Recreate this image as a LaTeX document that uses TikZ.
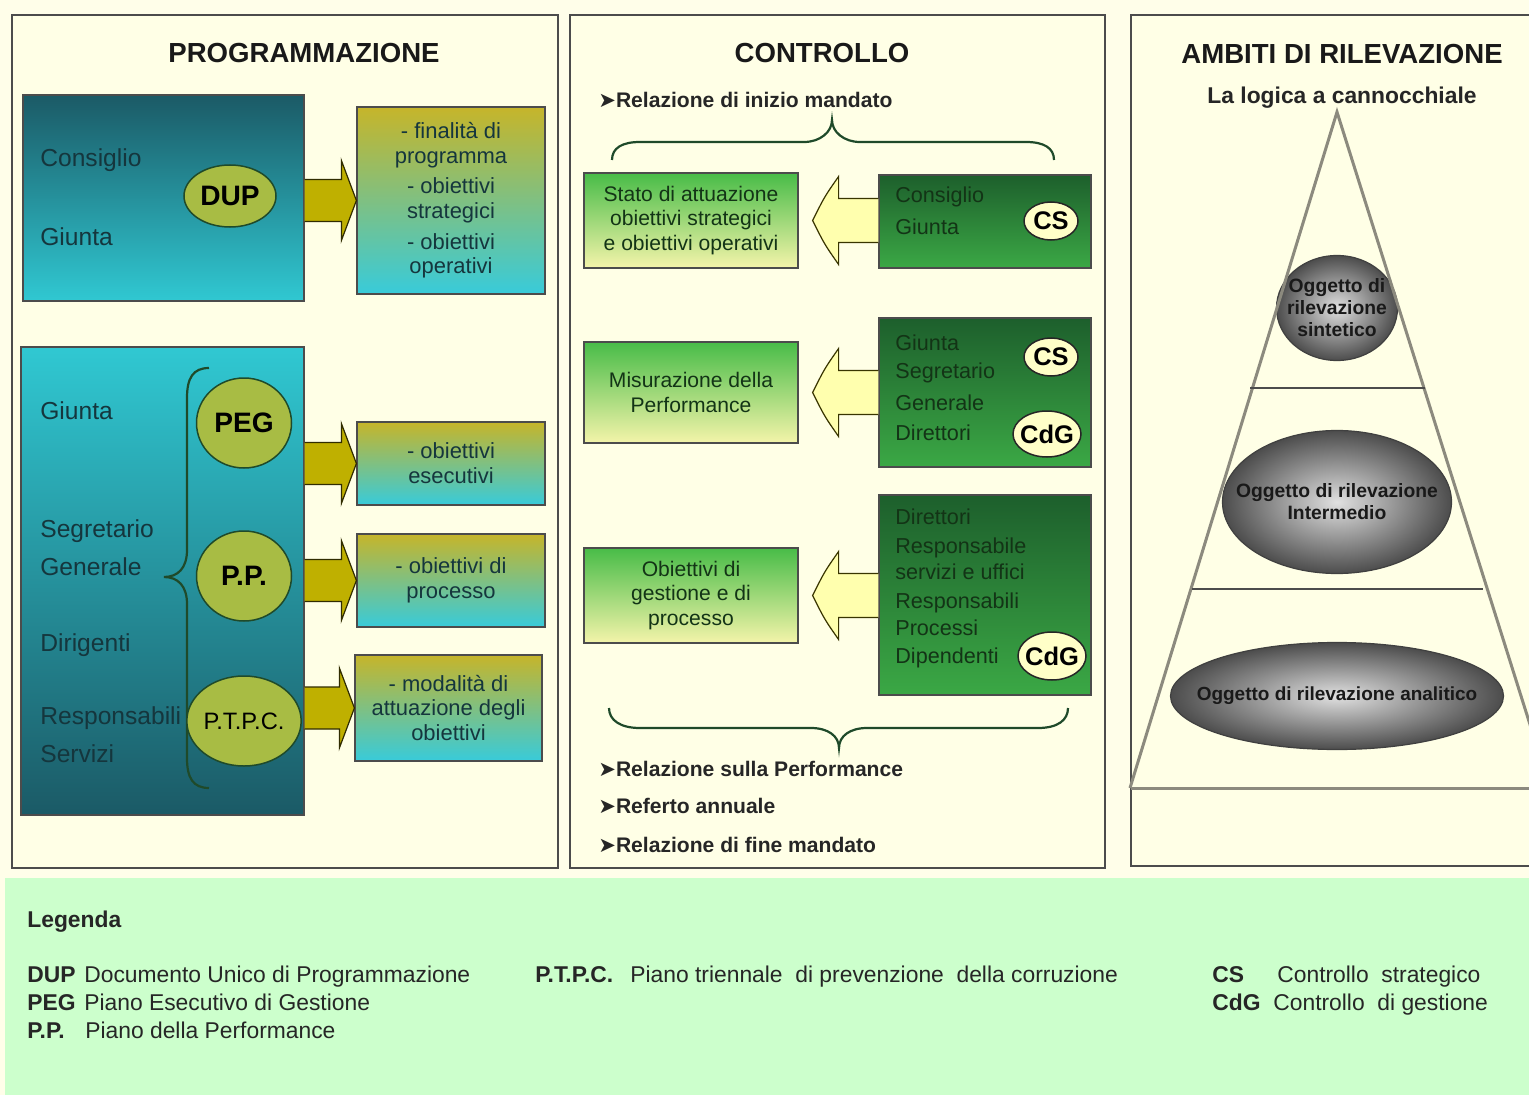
\documentclass[tikz,border=0pt]{standalone}
\usepackage{fontspec}
\setmainfont{Liberation Sans}
\newfontfamily\symfont{DejaVu Sans}
\usetikzlibrary{shapes.geometric,calc}

\newlength\px
\setlength\px{0.02cm}

\definecolor{bgcream}{HTML}{FFFEE9}
\definecolor{panelfill}{HTML}{FFFFE6}
\definecolor{legendgreen}{HTML}{CCFFCC}
\definecolor{tealdark}{HTML}{1B5A66}
\definecolor{tealbright}{HTML}{30C8D2}
\definecolor{olivetop}{HTML}{C6B52A}
\definecolor{cyanbox}{HTML}{38CBDA}
\definecolor{olivearrow}{HTML}{BFB000}
\definecolor{circlefill}{HTML}{A8BC44}
\definecolor{greentop}{HTML}{48BC48}
\definecolor{paleyellow}{HTML}{F4F4AA}
\definecolor{forestdark}{HTML}{1D5F2C}
\definecolor{forestmid}{HTML}{3BA845}
\definecolor{lightarrow}{HTML}{FFFFAE}
\definecolor{ovalcream}{HTML}{FFFFC8}
\definecolor{bracegreen}{HTML}{1F4A2A}
\definecolor{inkteal}{HTML}{15363D}
\definecolor{inkgreen}{HTML}{133416}
\definecolor{conegray}{HTML}{8C8A7E}

\newcommand{\reportmark}{{\symfont\fontsize{12}{14}\selectfont ➤}}

\tikzset{
  panel/.style={draw=black!70, fill=panelfill, line width=1.6\px},
  heading/.style={font=\fontsize{15.7}{18}\selectfont\bfseries, text=black!90},
  tealdown/.style={draw=black!70, line width=1.2\px, top color=tealdark, bottom color=tealbright},
  tealup/.style={draw=black!70, line width=1.2\px, top color=tealbright, bottom color=tealdark},
  goalbox/.style={draw=black!70, line width=1.2\px, top color=olivetop, bottom color=cyanbox,
    align=center, font=\fontsize{12.5}{14.2}\selectfont, text=inkteal},
  roletext/.style={anchor=west, inner sep=0pt, font=\fontsize{14}{16}\selectfont, text=inkteal},
  plan/.style={ellipse, draw=bracegreen, line width=1.5\px, fill=circlefill, inner sep=0pt,
    font=\fontsize{16}{18}\selectfont\bfseries, text=black},
  olivearr/.style={draw=black!75!olivearrow, line width=1.2\px, fill=olivearrow},
  resultbox/.style={draw=black!70, line width=1.2\px, top color=greentop, bottom color=paleyellow,
    align=center, font=\fontsize{12}{14.2}\selectfont, text=inkgreen},
  actorbox/.style={draw=black!70, line width=1.2\px, top color=forestdark, bottom color=forestmid},
  actortext/.style={anchor=west, inner sep=0pt, font=\fontsize{12.3}{14}\selectfont, text=inkgreen},
  ctrl/.style={ellipse, draw=black!85, line width=1.5\px, fill=ovalcream, inner sep=0pt},
  ctrltext/.style={inner sep=0pt, font=\fontsize{14.5}{16}\selectfont\bfseries, text=black},
  lightarr/.style={draw=black!70!olivearrow, line width=1.2\px, fill=lightarrow},
  report/.style={anchor=west, inner sep=0pt, font=\fontsize{12}{14}\selectfont\bfseries, text=black!85},
  bracepath/.style={draw=bracegreen, line width=2.2\px},
  ball/.style={ellipse, draw=black!75, line width=1.2\px, inner color=black!12, outer color=black!70,
    inner sep=0pt},
  balltext/.style={align=center, inner sep=0pt, font=\fontsize{11}{12.5}\selectfont\bfseries, text=black!90},
  cone/.style={draw=conegray, line width=3\px},
  legendtext/.style={anchor=base west, inner sep=0pt, font=\fontsize{13}{15}\selectfont, text=black!85},
  legendkey/.style={legendtext, font=\fontsize{13}{15}\selectfont\bfseries}
}

% right-pointing olive arrow from box #1 to box #2
\newcommand{\blockright}[2]{%
  \draw[olivearr] ($(#1.east |- #2.west)+(0,-21)$) -- ($(#2.west)+(-15,-21)$)
    -- ($(#2.west)+(-15,-40)$) -- (#2.west) -- ($(#2.west)+(-15,40)$)
    -- ($(#2.west)+(-15,21)$) -- ($(#1.east |- #2.west)+(0,21)$);}

% left-pointing light arrow from box #1 to box #2
\newcommand{\blockleft}[2]{%
  \coordinate (tip) at ($(#2.east)+(14,0)$);
  \coordinate (tail) at (#1.west |- #2.east);
  \draw[lightarr] ($(tail)+(0,-22)$) -- ($(tip)+(26,-22)$) -- ($(tip)+(26,-44)$)
    .. controls ($(tip)+(12,-24)$) .. (tip) .. controls ($(tip)+(12,24)$) .. ($(tip)+(26,44)$)
    -- ($(tip)+(26,22)$) -- ($(tail)+(0,22)$);}

\begin{document}
\begin{tikzpicture}[x=0.02cm,y=-0.02cm]
\clip (0,0) rectangle (1529,1095);

% background
\fill[bgcream] (0,0) rectangle (1529,878);
\fill[bgcream] (0,878) rectangle (5,1095);
\fill[legendgreen] (5,878) rectangle (1529,1095);

% panels
\draw[panel] (12,15) rectangle (558,868);
\draw[panel] (570,15) rectangle (1105,868);
\draw[panel] (1131,15) rectangle (1560,866);

\node[heading] (progtitle) at (304,53) {PROGRAMMAZIONE};
\node[heading] (ctrltitle) at (822,53) {CONTROLLO};
\node[heading] (ambtitle) at (1342,54) {AMBITI DI RILEVAZIONE};

%% PROGRAMMAZIONE
\node[tealdown, minimum width=281\px, minimum height=206\px] (dupbox) at (163.5,198) {};
\node[roletext] (consiglio) at (40,160) {Consiglio};
\node[roletext] (giunta) at (40,237) {Giunta};
\node[plan, minimum width=92\px, minimum height=62\px] (dup) at (230,196) {DUP};

\node[goalbox, minimum width=188\px, minimum height=187\px] (finbox) at (451,200.5)
  {- finalità di\\programma\\[3pt]- obiettivi\\strategici\\[3pt]- obiettivi\\operativi};

\node[tealup, minimum width=283\px, minimum height=468\px] (pegbox) at (162.5,581) {};
\node[roletext] (giunta2) at (40,411) {Giunta};
\node[roletext] (segretario) at (40,531) {Segretario};
\node[roletext] (generale) at (40,567) {Generale};
\node[roletext] (dirigenti) at (40,645) {Dirigenti};
\node[roletext] (responsabili) at (40,718) {Responsabili};
\node[roletext] (servizi) at (40,754) {Servizi};

\draw[bracepath] (209,368) .. controls (193,368) and (187,378) .. (187,398) -- (187,550)
  .. controls (187,568) and (178,577) .. (164,577) .. controls (178,577) and (187,586) .. (187,604)
  -- (187,758) .. controls (187,778) and (193,788) .. (209,788);

\node[plan, minimum width=95\px, minimum height=90\px] (peg) at (244,423) {PEG};
\node[plan, minimum width=95\px, minimum height=90\px] (pp) at (244,576) {P.P.};
\node[plan, minimum width=95\px, minimum height=90\px, font=\fontsize{13.5}{15}\selectfont] (ptpc) at (244,721) {P.T.P.C.};

\node[goalbox, minimum width=188\px, minimum height=83\px] (esebox) at (451,463.5)
  {- obiettivi\\esecutivi};
\node[goalbox, minimum width=188\px, minimum height=93\px] (procbox) at (451,580.5)
  {- obiettivi di\\processo};
\node[goalbox, minimum width=187\px, minimum height=106\px] (modbox) at (448.5,708)
  {- modalità di\\attuazione degli\\obiettivi};

\blockright{dupbox}{finbox}
\blockright{pegbox}{esebox}
\blockright{pegbox}{procbox}
\blockright{pegbox}{modbox}

%% CONTROLLO
\node[report] (relinizio) at (598,100) {\reportmark Relazione di inizio mandato};
\draw[bracepath] (612,160) .. controls (612,148) and (622,142) .. (640,142) -- (804,142)
  .. controls (820,142) and (832,132) .. (832,120) .. controls (832,132) and (844,142) .. (860,142)
  -- (1026,142) .. controls (1044,142) and (1054,148) .. (1054,160);

\node[resultbox, minimum width=214\px, minimum height=95\px] (statobox) at (691,220.5)
  {Stato di attuazione\\obiettivi strategici\\e obiettivi operativi};
\node[actorbox, minimum width=212\px, minimum height=93\px] (strbox) at (985,221.5) {};
\foreach \t/\y [count=\i] in {Consiglio/197,Giunta/227}
  \node[actortext] (stra\i) at (895,\y) {\t};
\node[ctrl, minimum width=54\px, minimum height=38\px] (csa) at (1051,221) {};
\node[ctrltext] (csalabel) at (csa) {CS};

\node[resultbox, minimum width=214\px, minimum height=101\px] (misbox) at (691,392.5)
  {Misurazione della\\Performance};
\node[actorbox, minimum width=212\px, minimum height=149\px] (perfbox) at (985,392.5) {};
\foreach \t/\y [count=\i] in {Giunta/343,Segretario/373,Generale/403,Direttori/433}
  \node[actortext] (perf\i) at (895,\y) {\t};
\node[ctrl, minimum width=54\px, minimum height=38\px] (csb) at (1051,357) {};
\node[ctrltext] (csblabel) at (csb) {CS};
\node[ctrl, minimum width=68\px, minimum height=46\px] (cdga) at (1047,434) {};
\node[ctrltext] (cdgalabel) at (cdga) {CdG};

\node[resultbox, minimum width=214\px, minimum height=95\px] (obbox) at (691,595.5)
  {Obiettivi di\\gestione e di\\processo};
\node[actorbox, minimum width=212\px, minimum height=200\px] (gestbox) at (985,595) {};
\foreach \t/\y [count=\i] in {Direttori/517,Responsabile/548,servizi e uffici/572,Responsabili/603,Processi/628,Dipendenti/658}
  \node[actortext] (gest\i) at (895,\y) {\t};
\node[ctrl, minimum width=68\px, minimum height=48\px] (cdgb) at (1052,656) {};
\node[ctrltext] (cdgblabel) at (cdgb) {CdG};

\blockleft{strbox}{statobox}
\blockleft{perfbox}{misbox}
\blockleft{gestbox}{obbox}

\draw[bracepath] (609,708) .. controls (609,720) and (620,728) .. (640,728) -- (811,728)
  .. controls (828,728) and (839,736) .. (839,748) .. controls (839,736) and (850,728) .. (867,728)
  -- (1038,728) .. controls (1058,728) and (1068,720) .. (1068,708);

\node[report] (relperf) at (598,769) {\reportmark Relazione sulla Performance};
\node[report] (referto) at (598,806) {\reportmark Referto annuale};
\node[report] (relfine) at (598,845) {\reportmark Relazione di fine mandato};

%% AMBITI DI RILEVAZIONE
\node[font=\fontsize{13}{15}\selectfont\bfseries, text=black!85] (logica) at (1342,98) {La logica a cannocchiale};

\node[ball, minimum width=121\px, minimum height=105\px] (sintetico) at (1337,308) {};
\node[balltext] (sintlabel) at (sintetico) {Oggetto di\\rilevazione\\sintetico};
\node[ball, minimum width=229\px, minimum height=143\px] (intermedio) at (1337,502) {};
\node[balltext] (intlabel) at (intermedio) {Oggetto di rilevazione\\Intermedio};
\node[ball, minimum width=333\px, minimum height=107\px] (analitico) at (1337,696) {};
\node[balltext, font=\fontsize{10.8}{12}\selectfont\bfseries] (analabel) at (analitico) {Oggetto di rilevazione analitico};

\draw[cone] (1130,788) -- (1337,112) -- (1550,788);
\draw[cone] (1131,788) -- (1540,788);
\draw[black!70, line width=1.6\px] (1250,388) -- (1425,388);
\draw[black!70, line width=1.6\px] (1192,589) -- (1483,589);

%% Legenda
\node[legendkey] (legenda) at (27,927) {Legenda};
\node[legendkey] (kdup) at (27,982) {DUP};
\node[legendtext] (ddup) at (84,982) {Documento Unico di Programmazione};
\node[legendkey] (kpeg) at (27,1010) {PEG};
\node[legendtext] (dpeg) at (84,1010) {Piano Esecutivo di Gestione};
\node[legendkey] (kpp) at (27,1038) {P.P.};
\node[legendtext] (dpp) at (85,1038) {Piano della Performance};
\node[legendkey] (kptpc) at (535,982) {P.T.P.C.};
\node[legendtext] (dptpc) at (630,982) {Piano triennale\ \ di prevenzione\ \ della corruzione};
\node[legendkey] (kcs) at (1212,982) {CS};
\node[legendtext] (dcs) at (1277,982) {Controllo\ \ strategico};
\node[legendkey] (kcdg) at (1212,1010) {CdG};
\node[legendtext] (dcdg) at (1273,1010) {Controllo\ \ di gestione};
\end{tikzpicture}
\end{document}
